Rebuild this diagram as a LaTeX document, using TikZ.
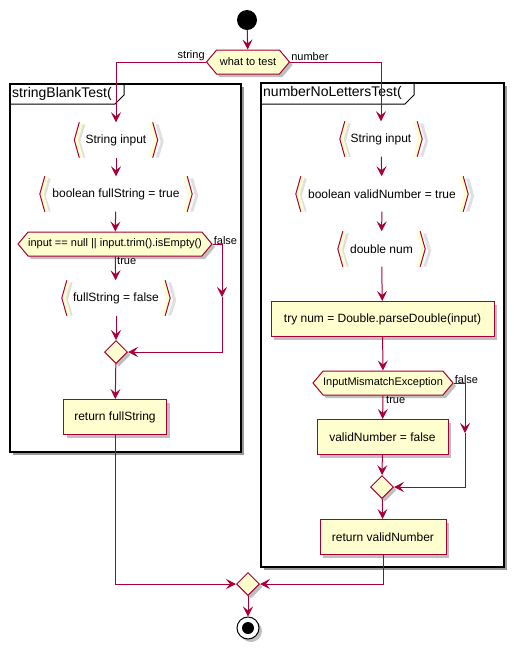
\documentclass[tikz,border=0pt]{standalone}
\usepackage{fontspec}
\setmainfont{Liberation Sans}
\usetikzlibrary{arrows.meta, shapes.geometric, shapes.symbols, shadows}
\definecolor{umlred}{HTML}{A80036}
\definecolor{umlfill}{HTML}{FEFECE}
\newcommand{\labelsize}{\fontsize{11}{13}\selectfont}
% angle brackets round a declaration node
\newcommand{\brackets}[1]{%
  \fill[gray!25] ([xshift=8pt,yshift=-2pt]#1.north west) -- ([xshift=3pt,yshift=-2pt]#1.west) -- ([xshift=8pt]#1.south west) -- ([xshift=11pt]#1.south west) -- ([xshift=6pt,yshift=-2pt]#1.west) -- ([xshift=11pt,yshift=-2pt]#1.north west) -- cycle;
  \fill[umlfill] ([xshift=5pt]#1.north west) -- (#1.west) -- ([xshift=5pt]#1.south west) -- ([xshift=9pt]#1.south west) -- ([xshift=4pt]#1.west) -- ([xshift=9pt]#1.north west) -- cycle;
  \draw[umlred, line width=1pt] ([xshift=5pt]#1.north west) -- (#1.west) -- ([xshift=5pt]#1.south west);
  \fill[gray!25] ([xshift=-2pt,yshift=-2pt]#1.north east) -- ([xshift=3pt,yshift=-2pt]#1.east) -- ([xshift=-2pt]#1.south east) -- ([xshift=1pt]#1.south east) -- ([xshift=6pt,yshift=-2pt]#1.east) -- ([xshift=1pt,yshift=-2pt]#1.north east) -- cycle;
  \fill[umlfill] ([xshift=-5pt]#1.north east) -- (#1.east) -- ([xshift=-5pt]#1.south east) -- ([xshift=-9pt]#1.south east) -- ([xshift=-4pt]#1.east) -- ([xshift=-9pt]#1.north east) -- cycle;
  \draw[umlred, line width=1pt] ([xshift=-5pt]#1.north east) -- (#1.east) -- ([xshift=-5pt]#1.south east);
}

\begin{document}
\begin{tikzpicture}[x=1pt, y=-1pt]
\useasboundingbox[fill=white] (0,0) rectangle (514,649);
\tikzstyle{flow}=[draw=umlred, line width=1pt, -{Stealth[length=10pt, width=10pt, inset=4pt]}]
\tikzstyle{line}=[draw=umlred, line width=1pt]
\tikzstyle{shade}=[drop shadow={shadow xshift=3pt, shadow yshift=-3pt, opacity=0.25, fill=black}]
\tikzstyle{action}=[draw=umlred, fill=umlfill, line width=1pt, shade,
                    minimum height=35pt, inner sep=0pt,
                    font=\fontsize{12}{14}\selectfont]
\tikzstyle{decl}=[inner sep=0pt, minimum height=35pt,
                  font=\fontsize{12}{14}\selectfont]
\tikzstyle{test}=[draw=umlred, fill=umlfill, line width=1pt, shade,
                  signal, signal to=west and east, signal pointer angle=100,
                  inner xsep=0pt, inner ysep=0pt, minimum height=24pt,
                  font=\labelsize]
\tikzstyle{merge}=[draw=umlred, fill=umlfill, line width=1pt, shade,
                   diamond, inner sep=0pt, minimum size=23pt]
\tikzstyle{grp}=[draw=black, line width=1.5pt, fill=white,
                 drop shadow={shadow xshift=3pt, shadow yshift=-3pt, opacity=0.4, fill=black}]

% frames
\fill[grp] (10,84) rectangle (241,452);
\node[anchor=west, inner sep=0pt, font=\fontsize{14}{16}\selectfont] (leftTitle) at (12,94) {stringBlankTest(};
\draw[line width=1pt] (10,104) -- (115,104) -- (124,95) -- (124,84);
\fill[grp] (261,83) rectangle (504,567);
\node[anchor=west, inner sep=0pt, font=\fontsize{14}{16}\selectfont] (rightTitle) at (263,93) {numberNoLettersTest(};
\draw[line width=1pt] (261,104) -- (405,104) -- (414,95) -- (414,83);

% start and first choice
\node[circle, fill=black, minimum size=20pt, inner sep=0pt] (start) at (247,20) {};
\node[test, minimum width=83pt] (what) at (248,62) {what to test};

% stringBlankTest
\node[decl, minimum width=83pt] (sInput) at (116,140) {String input};
\node[decl, minimum width=152pt] (sFull) at (116,194) {boolean fullString = true};
\node[test, minimum width=190pt] (sCheck) at (115,244) {input == null || input.trim().isEmpty()};
\node[decl, minimum width=108pt] (sFalse) at (116,298) {fullString = false};
\node[merge] (sMerge) at (116,352) {};
\node[action, minimum width=103pt] (sReturn) at (115,417) {return fullString};
\brackets{sInput}
\brackets{sFull}
\brackets{sFalse}

% numberNoLettersTest
\node[decl, minimum width=82pt] (nInput) at (381,139) {String input};
\node[decl, minimum width=172pt] (nValid) at (382,194) {boolean validNumber = true};
\node[decl, minimum width=87pt] (nNum) at (381.5,249) {double num};
\node[action, minimum width=223pt] (nTry) at (382.5,319) {try num = Double.parseDouble(input)};
\node[test, minimum width=140pt] (nCatch) at (383,383) {InputMismatchException};
\node[action, minimum width=131pt] (nFalse) at (382.5,437) {validNumber = false};
\node[merge] (nMerge) at (382,487) {};
\node[action, minimum width=126pt] (nReturn) at (383,537) {return validNumber};
\brackets{nInput}
\brackets{nValid}
\brackets{nNum}

% end
\node[merge] (endMerge) at (248,584) {};
\node[circle, draw=black, line width=1pt, fill=white, minimum size=22pt, inner sep=0pt, shade] (stop) at (248,628) {};
\node[circle, fill=black, minimum size=12pt, inner sep=0pt] (stopDot) at (stop) {};

\coordinate (sSkipTop) at (222,244);
\coordinate (sSkipMid) at (222,297);
\coordinate (sSkipEnd) at (222,352);
\coordinate (nSkipTop) at (465,383);
\coordinate (nSkipMid) at (465,433);
\coordinate (nSkipEnd) at (465,487);

\draw[flow] (start) -- (what);
\draw[flow] (what.west) -| (sInput.north);
\draw[flow] (what.east) -| (nInput.north);
\node[anchor=south east, inner sep=1pt, font=\labelsize] (stringLabel) at (what.west) {string};
\node[anchor=south west, inner sep=1pt, font=\labelsize] (numberLabel) at (what.east) {number};

\draw[flow] (sInput) -- (sFull);
\draw[flow] (sFull) -- (sCheck);
\draw[flow] (sCheck) -- (sFalse);
\node[anchor=north west, inner sep=1pt, font=\labelsize] (sTrue) at ([xshift=1pt]sCheck.south) {true};
\draw[flow] (sCheck.east) -- (sSkipTop) -- (sSkipMid);
\draw[flow] (sSkipMid) -- (sSkipEnd) -- (sMerge.east);
\node[anchor=south west, inner sep=1pt, font=\labelsize] (sFalseLabel) at ([yshift=-2pt]sCheck.east) {false};
\draw[flow] (sFalse) -- (sMerge);
\draw[flow] (sMerge) -- (sReturn);
\draw[flow] (sReturn.south) |- (endMerge.west);

\draw[flow] (nInput) -- (nValid);
\draw[flow] (nValid) -- (nNum);
\draw[flow] (nNum) -- (nTry);
\draw[flow] (nTry) -- (nCatch);
\draw[flow] (nCatch) -- (nFalse);
\node[anchor=north west, inner sep=1pt, font=\labelsize] (nTrue) at ([xshift=2pt]nCatch.south) {true};
\draw[flow] (nCatch.east) -- (nSkipTop) -- (nSkipMid);
\draw[flow] (nSkipMid) -- (nSkipEnd) -- (nMerge.east);
\node[anchor=south west, inner sep=1pt, font=\labelsize] (nFalseLabel) at ([yshift=-2pt]nCatch.east) {false};
\draw[flow] (nFalse) -- (nMerge);
\draw[flow] (nMerge) -- (nReturn);
\draw[flow] (nReturn.south) |- (endMerge.east);

\draw[flow] (endMerge) -- (stop);

\end{tikzpicture}
\end{document}
